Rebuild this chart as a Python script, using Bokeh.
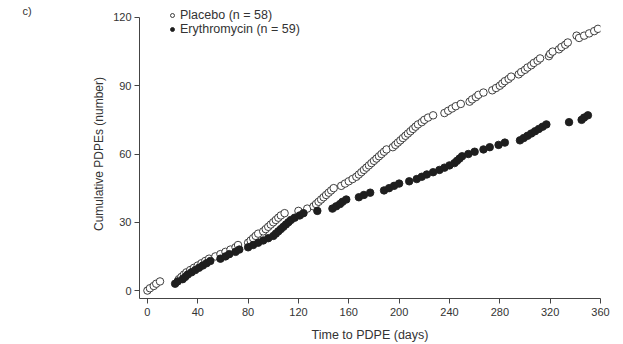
from bokeh.plotting import figure
from bokeh.models import Range1d, FixedTicker, Legend, LegendItem
from bokeh.embed import file_html
from bokeh.resources import INLINE

# ---- data (time in days, cumulative PDPE count) ----
placebo_days = [0, 2, 5, 7, 10,
                25, 27, 29, 31, 34, 37, 40, 43, 46, 49,
                54, 58, 62, 66, 70, 72,
                80, 82, 84, 86, 88,
                92, 94, 96, 98, 100, 102, 104, 106, 109,
                120, 127,
                132, 134, 136, 138, 140, 142, 144, 146, 148,
                154, 157, 160, 163, 166, 168, 170, 172, 174, 176, 178, 180, 182, 184, 186, 188, 190,
                195, 197, 199, 201, 203, 205, 207, 209, 211, 213, 215, 218, 220, 223,
                227,
                236, 239, 242, 245, 249,
                256, 258, 261, 263,
                267,
                274, 277, 280, 282, 284, 287, 289,
                295, 297, 300, 302, 305, 307, 310, 312,
                319, 320, 322,
                327, 329, 332, 334,
                341, 343,
                347, 351, 355, 358]
placebo_count = [0, 1, 2, 3, 4,
                 5, 6, 7, 8, 9, 10, 11, 12, 13, 14,
                 15, 16, 17, 18, 19, 20,
                 21, 22, 23, 24, 25,
                 26, 27, 28, 29, 30, 31, 32, 33, 34,
                 35, 36,
                 37, 38, 39, 40, 41, 42, 43, 44, 45,
                 46, 47, 48, 49, 50, 51, 52, 53, 54, 55, 56, 57, 58, 59, 60, 61, 62,
                 63, 64, 65, 66, 67, 68, 69, 70, 71, 72, 73, 74, 75, 76,
                 77,
                 78, 79, 80, 81, 82,
                 83, 84, 85, 86,
                 87,
                 88, 89, 90, 91, 92, 93, 94,
                 95, 96, 97, 98, 99, 100, 101, 102,
                 103, 104, 105,
                 106, 107, 108, 109,
                 112, 111,
                 112, 113, 114, 115]

erythro_days = [22, 24, 28, 30, 32, 35, 38, 41, 44, 47, 50, 58, 62, 65, 70, 73,
                80, 84, 88, 92, 96, 100, 102, 104, 106, 108, 110, 112, 114, 117,
                121, 124, 135, 147, 150, 153, 155, 158, 168, 172, 177, 188, 192,
                196, 200, 208, 214, 218, 222, 227, 232, 236, 240, 244, 246, 248,
                250, 255, 260, 267, 272, 279, 284, 296, 299, 302, 305, 308, 311,
                314, 317, 335, 345, 347, 350]
erythro_count = [3, 4, 5, 6, 7, 8, 9, 10, 11, 12, 13, 14, 15, 16, 17, 18,
                 19, 20, 21, 22, 23, 24, 25, 26, 27, 28, 29, 30, 31, 32,
                 33, 34, 35, 36, 37, 38, 39, 40, 41, 42, 43, 44, 45,
                 46, 47, 48, 49, 50, 51, 52, 53, 54, 55, 56, 57, 58,
                 59, 60, 61, 62, 63, 64, 65, 66, 67, 68, 69, 70, 71,
                 72, 73, 74, 75, 76, 77]

x_ticks = [0, 40, 80, 120, 160, 200, 240, 280, 320, 360]
y_ticks = [0, 30, 60, 90, 120]

FONT = "Liberation Sans"
TXT = "#333333"
AX = "#444444"

p = figure(width=615, height=344, output_backend="svg", toolbar_location=None,
           x_range=Range1d(-6.3, 360), y_range=Range1d(-3.5, 123.5),
           min_border_left=139, min_border_right=15, min_border_top=9,
           min_border_bottom=44)
p.outline_line_color = None
p.xgrid.visible = False
p.ygrid.visible = False
p.background_fill_color = "white"
p.border_fill_color = "white"

p.title.text = "c)"
p.title.align = "left"
p.title.offset = -117
p.title.standoff = -14
p.title.text_line_height = 0.8
p.title.text_font = FONT
p.title.text_font_size = "11px"
p.title.text_font_style = "normal"
p.title.text_color = TXT

for ax in (p.xaxis[0], p.yaxis[0]):
    ax.axis_line_color = AX
    ax.axis_line_width = 1
    ax.major_tick_line_color = AX
    ax.major_tick_in = 0
    ax.major_tick_out = 5
    ax.minor_tick_line_color = None
    ax.major_label_text_font = FONT
    ax.major_label_text_font_size = "11px"
    ax.major_label_text_color = TXT
    ax.axis_label_text_font = FONT
    ax.axis_label_text_font_style = "normal"
    ax.axis_label_text_color = TXT

p.yaxis.bounds = (-3.5, 120)
p.xaxis.ticker = FixedTicker(ticks=x_ticks)
p.yaxis.ticker = FixedTicker(ticks=y_ticks)
p.xaxis.axis_label = "Time to PDPE (days)"
p.yaxis.axis_label = "Cumulative PDPEs (number)"
p.xaxis.axis_label_text_font_size = "12.5px"
p.yaxis.axis_label_text_font_size = "12px"
p.xaxis.major_label_standoff = 4
p.xaxis.axis_label_standoff = 9
p.yaxis.major_label_standoff = 3
p.yaxis.axis_label_standoff = 4

r_pl = p.scatter(placebo_days, placebo_count, marker="circle", size=7.5,
                 fill_color="white", line_color="#2a2a2a", line_width=0.9)
r_er = p.scatter(erythro_days, erythro_count, marker="circle", size=7.5,
                 fill_color="#1e1e1e", line_color="#1e1e1e", line_width=0.9)

legend = Legend(items=[LegendItem(label="Placebo (n = 58)", renderers=[r_pl]),
                       LegendItem(label="Erythromycin (n = 59)", renderers=[r_er])],
                location=(28, 262), orientation="vertical",
                background_fill_alpha=0, border_line_color=None,
                padding=0, margin=0, spacing=0, glyph_width=10, glyph_height=14,
                label_standoff=3, label_text_font=FONT, label_text_font_size="12.5px",
                label_text_color=TXT)
p.add_layout(legend, "center")

open("out.html", "w").write(file_html(p, INLINE))
